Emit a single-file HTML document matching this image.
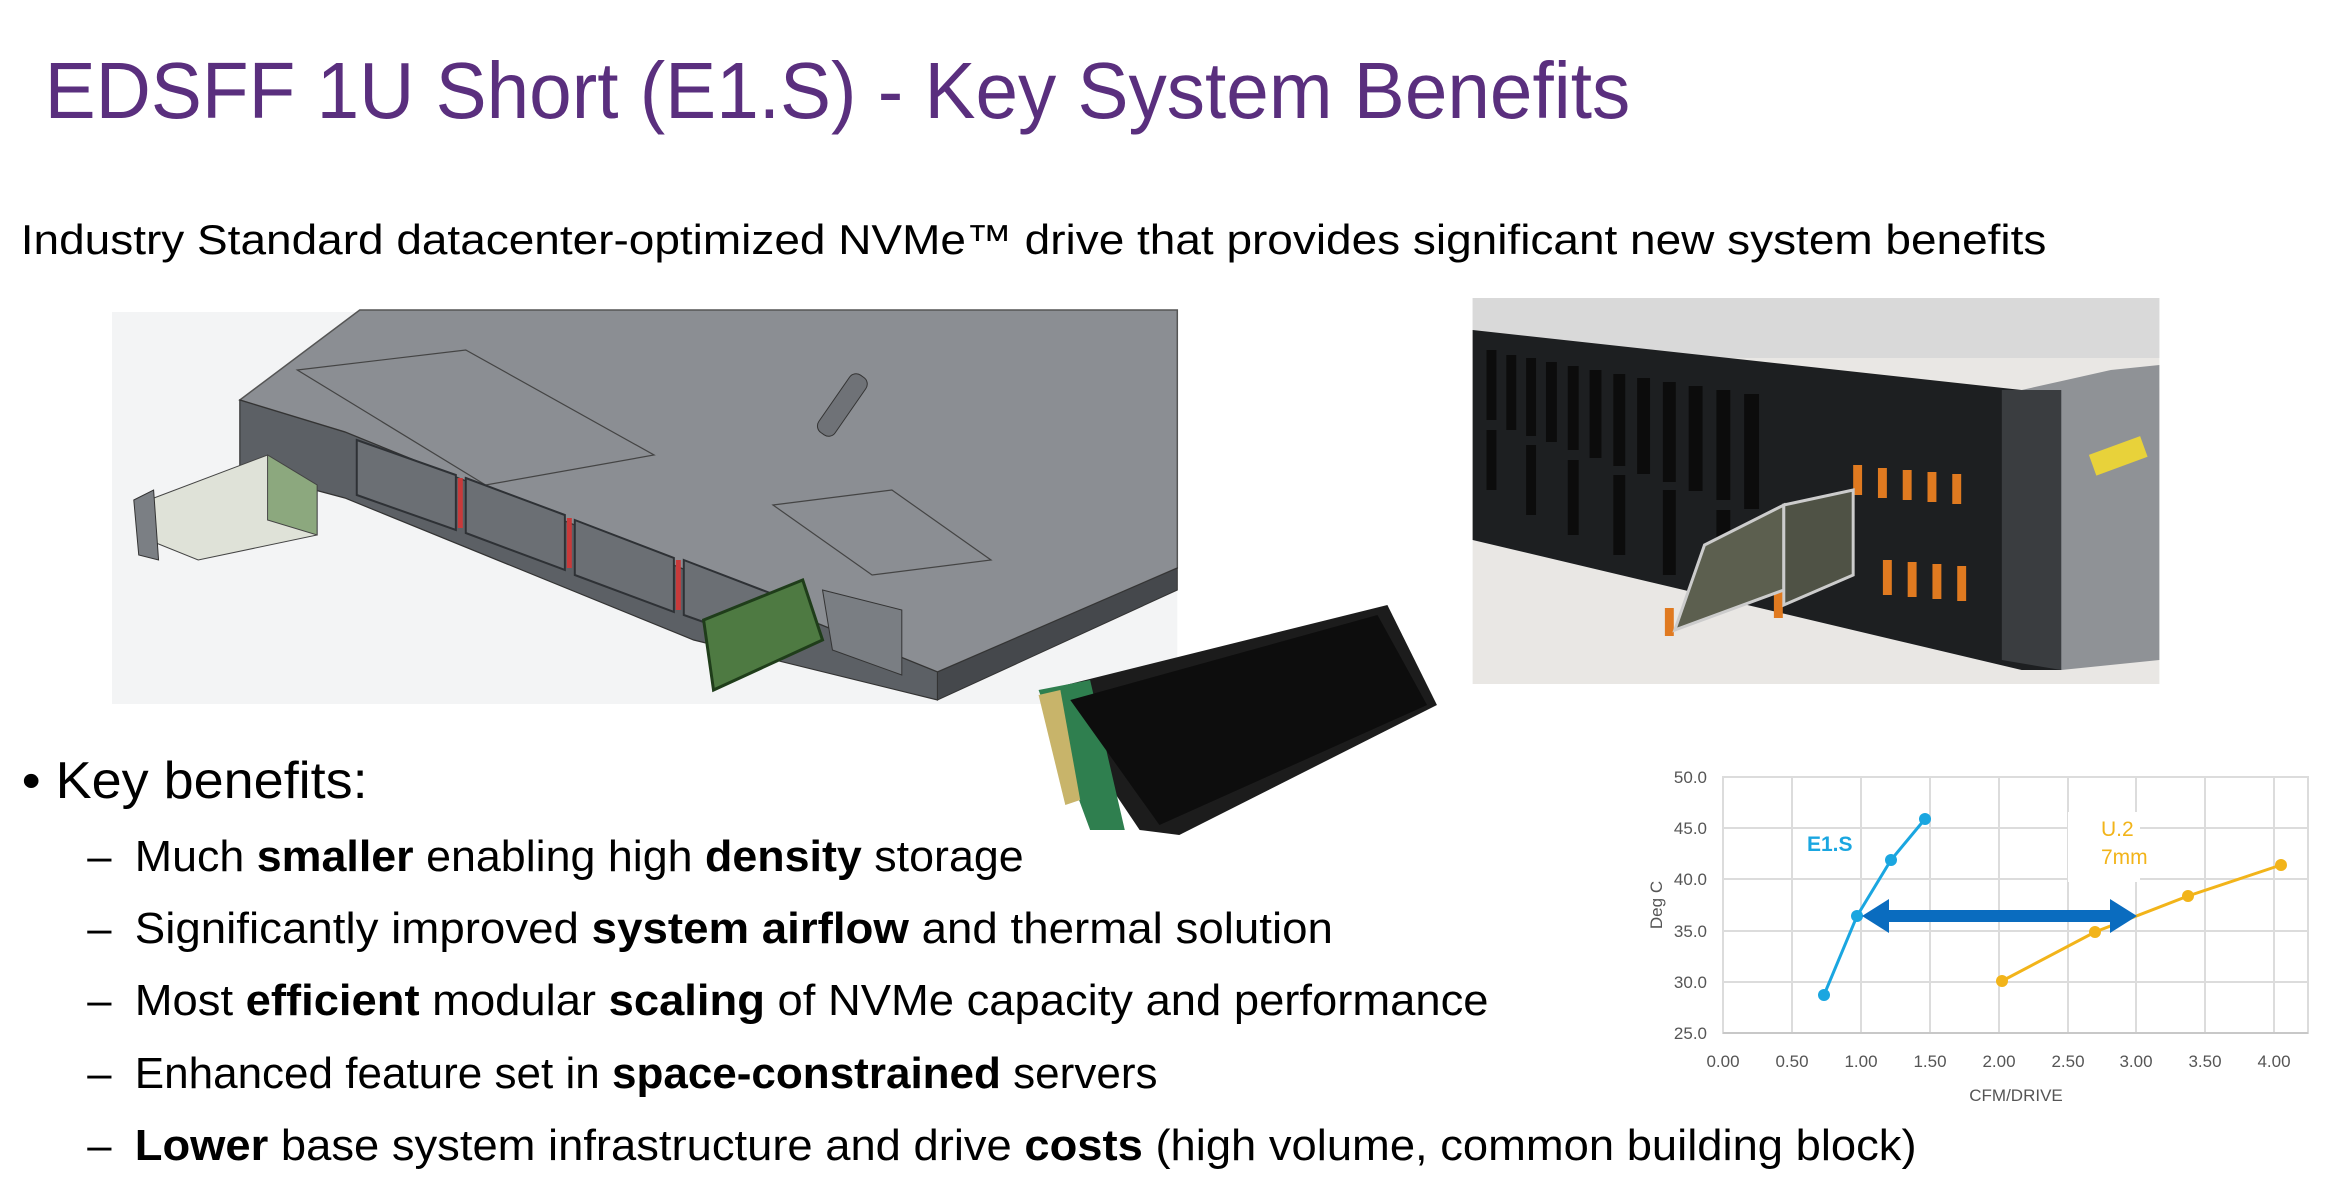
<!DOCTYPE html>
<html><head><meta charset="utf-8"><style>
html,body{margin:0;padding:0;background:#fff;}
svg{display:block;}
text{font-family:"Liberation Sans",sans-serif;}
</style></head><body>
<svg width="2348" height="1182" viewBox="0 0 2348 1182" xmlns="http://www.w3.org/2000/svg">
<rect width="2348" height="1182" fill="#fff"/>
<g transform="scale(0.991 1)">
<!-- Title -->
<text x="45" y="118" font-size="80" fill="#5a2f7e" textLength="1600" lengthAdjust="spacingAndGlyphs">EDSFF 1U Short (E1.S) - Key System Benefits</text>
<text x="21" y="254" font-size="42" fill="#000" textLength="2044" lengthAdjust="spacingAndGlyphs">Industry Standard datacenter-optimized NVMe™ drive that provides significant new system benefits</text>

<!-- Server drawing -->
<rect x="113" y="312" width="1075" height="392" fill="#f3f4f5"/>
<polygon points="242,400 363,310 1188,310 1188,568 946,672 348,432" fill="#8b8e93" stroke="#555" stroke-width="1.5"/>
<polygon points="300,370 470,350 660,455 490,485" fill="none" stroke="#444" stroke-width="1.2"/>
<polygon points="780,505 900,490 1000,560 880,575" fill="none" stroke="#444" stroke-width="1.2"/>
<rect x="840" y="370" width="20" height="70" rx="8" transform="rotate(35 850 405)" fill="#6f7277" stroke="#333"/>
<polygon points="242,400 348,432 946,672 946,700 700,640 348,498 242,470" fill="#5c6065" stroke="#333" stroke-width="1.2"/>
<polygon points="946,672 1188,568 1188,590 946,700" fill="#45484c" stroke="#333"/>
<g stroke="#2e3135" stroke-width="2" fill="#6b6f74">
<polygon points="360,440 460,475 460,530 360,495"/>
<polygon points="470,478 570,515 570,570 470,533"/>
<polygon points="580,520 680,558 680,612 580,575"/>
<polygon points="690,560 790,598 790,650 690,615"/>
</g>
<g fill="#c83a3a"><rect x="462" y="478" width="5" height="50"/><rect x="572" y="518" width="5" height="50"/><rect x="682" y="560" width="5" height="50"/></g>
<polygon points="150,500 270,455 320,485 320,535 200,560 150,540" fill="#dfe2d8" stroke="#444"/>
<polygon points="270,455 320,485 320,535 270,520" fill="#8ca87e" stroke="#444"/>
<polygon points="135,500 155,490 160,560 140,555" fill="#7b7f84" stroke="#333"/>
<polygon points="710,620 810,580 830,640 720,690" fill="#4e7a42" stroke="#1f3d1a" stroke-width="3"/>
<polygon points="830,590 910,610 910,675 840,650" fill="#7a7e83" stroke="#333"/>

<!-- M.2 drive -->
<polygon points="1055,690 1400,605 1450,705 1190,835 1150,830" fill="#1c1c1c"/>
<polygon points="1048,690 1100,680 1135,830 1100,830" fill="#2f7f4f"/>
<polygon points="1048,695 1070,690 1090,800 1075,805" fill="#c8b46a"/>
<polygon points="1080,700 1390,615 1440,705 1170,825" fill="#0d0d0d"/>

<!-- Photo -->
<rect x="1486" y="298" width="693" height="386" fill="#e9e7e4"/>
<rect x="1486" y="298" width="693" height="60" fill="#d9d9d9"/>
<polygon points="1486,330 2040,390 2080,390 2080,670 2040,670 1486,540" fill="#1d1f21"/>
<polygon points="2040,390 2130,370 2179,365 2179,660 2080,670" fill="#8f9296"/>
<polygon points="2020,390 2080,390 2080,670 2020,660" fill="#3a3d40"/>
<g fill="#0c0c0c">
<rect x="1500" y="350" width="10" height="70"/><rect x="1520" y="355" width="10" height="75"/><rect x="1540" y="358" width="10" height="78"/><rect x="1560" y="362" width="11" height="80"/><rect x="1582" y="366" width="11" height="84"/><rect x="1604" y="370" width="12" height="88"/><rect x="1628" y="374" width="12" height="92"/><rect x="1652" y="378" width="13" height="96"/><rect x="1678" y="382" width="13" height="100"/><rect x="1704" y="386" width="14" height="105"/><rect x="1732" y="390" width="14" height="110"/><rect x="1760" y="394" width="15" height="115"/>
<rect x="1500" y="430" width="10" height="60"/><rect x="1540" y="445" width="10" height="70"/><rect x="1582" y="460" width="11" height="75"/><rect x="1628" y="475" width="12" height="80"/><rect x="1678" y="490" width="13" height="85"/><rect x="1732" y="510" width="14" height="90"/>
</g>
<g fill="#e07a20"><rect x="1870" y="465" width="9" height="30"/><rect x="1895" y="468" width="9" height="30"/><rect x="1920" y="470" width="9" height="30"/><rect x="1945" y="472" width="9" height="30"/><rect x="1970" y="474" width="9" height="30"/>
<rect x="1900" y="560" width="9" height="35"/><rect x="1925" y="562" width="9" height="35"/><rect x="1950" y="564" width="9" height="35"/><rect x="1975" y="566" width="9" height="35"/><rect x="1680" y="608" width="9" height="28"/><rect x="1790" y="590" width="9" height="28"/></g>
<polygon points="1720,545 1800,505 1800,590 1690,630" fill="#5c5f4f" stroke="#ccc" stroke-width="3"/>
<polygon points="1800,505 1870,490 1870,575 1800,605" fill="#4f5245" stroke="#ccc" stroke-width="3"/>
<rect x="2110" y="445" width="55" height="22" fill="#e8d23a" transform="rotate(-20 2137 456)"/>

<!-- Bullets -->
<text x="22" y="798" font-size="52" fill="#000" textLength="349" lengthAdjust="spacingAndGlyphs">• Key benefits:</text>
<g font-size="44" fill="#000">
<text x="88" y="871">–</text>
<text x="136" y="871" textLength="897" lengthAdjust="spacingAndGlyphs">Much <tspan font-weight="bold">smaller</tspan> enabling high <tspan font-weight="bold">density</tspan> storage</text>
<text x="88" y="943">–</text>
<text x="136" y="943" textLength="1209" lengthAdjust="spacingAndGlyphs">Significantly improved <tspan font-weight="bold">system airflow</tspan> and thermal solution</text>
<text x="88" y="1015">–</text>
<text x="136" y="1015" textLength="1366" lengthAdjust="spacingAndGlyphs">Most <tspan font-weight="bold">efficient</tspan> modular <tspan font-weight="bold">scaling</tspan> of NVMe capacity and performance</text>
<text x="88" y="1088">–</text>
<text x="136" y="1088" textLength="1032" lengthAdjust="spacingAndGlyphs">Enhanced feature set in <tspan font-weight="bold">space-constrained</tspan> servers</text>
<text x="88" y="1160">–</text>
<text x="136" y="1160" textLength="1798" lengthAdjust="spacingAndGlyphs"><tspan font-weight="bold">Lower</tspan> base system infrastructure and drive <tspan font-weight="bold">costs</tspan> (high volume, common building block)</text>
</g>
</g>

<!-- Chart -->
<g stroke="#dcdcdc" stroke-width="2" fill="none">
<rect x="1723" y="777" width="585" height="256"/>
<line x1="1723" y1="828" x2="2308" y2="828"/><line x1="1723" y1="879" x2="2308" y2="879"/><line x1="1723" y1="931" x2="2308" y2="931"/><line x1="1723" y1="982" x2="2308" y2="982"/>
<line x1="1792" y1="777" x2="1792" y2="1033"/><line x1="1861" y1="777" x2="1861" y2="1033"/><line x1="1930" y1="777" x2="1930" y2="1033"/><line x1="1999" y1="777" x2="1999" y2="1033"/><line x1="2068" y1="777" x2="2068" y2="1033"/><line x1="2136" y1="777" x2="2136" y2="1033"/><line x1="2205" y1="777" x2="2205" y2="1033"/><line x1="2274" y1="777" x2="2274" y2="1033"/>
</g>
<line x1="1723" y1="1033" x2="2308" y2="1033" stroke="#c8c8c8" stroke-width="2"/>
<g font-size="17" fill="#555" text-anchor="end">
<text x="1707" y="783">50.0</text><text x="1707" y="834">45.0</text><text x="1707" y="885">40.0</text><text x="1707" y="937">35.0</text><text x="1707" y="988">30.0</text><text x="1707" y="1039">25.0</text>
</g>
<g font-size="17" fill="#555" text-anchor="middle">
<text x="1723" y="1067">0.00</text><text x="1792" y="1067">0.50</text><text x="1861" y="1067">1.00</text><text x="1930" y="1067">1.50</text><text x="1999" y="1067">2.00</text><text x="2068" y="1067">2.50</text><text x="2136" y="1067">3.00</text><text x="2205" y="1067">3.50</text><text x="2274" y="1067">4.00</text>
<text x="2016" y="1101">CFM/DRIVE</text>
</g>
<text x="0" y="0" font-size="17" fill="#555" text-anchor="middle" transform="translate(1662 905) rotate(-90)">Deg C</text>
<rect x="2068" y="812" width="72" height="70" fill="#fff"/>
<text x="1807" y="851" font-size="21" font-weight="bold" fill="#1aa6e0">E1.S</text>
<text x="2101" y="836" font-size="21" fill="#f2b41a">U.2</text>
<text x="2101" y="864" font-size="21" fill="#f2b41a">7mm</text>
<polyline points="1824,995 1857,916 1891,860 1925,819" fill="none" stroke="#1aa6e0" stroke-width="3"/>
<g fill="#1aa6e0"><circle cx="1824" cy="995" r="6"/><circle cx="1857" cy="916" r="6"/><circle cx="1891" cy="860" r="6"/><circle cx="1925" cy="819" r="6"/></g>
<polyline points="2002,981 2095,932 2188,896 2281,865" fill="none" stroke="#f2b41a" stroke-width="3"/>
<g fill="#f2b41a"><circle cx="2002" cy="981" r="6"/><circle cx="2095" cy="932" r="6"/><circle cx="2188" cy="896" r="6"/><circle cx="2281" cy="865" r="6"/></g>
<polygon points="1862,916 1889,899 1889,910 2110,910 2110,899 2137,916 2110,933 2110,922 1889,922 1889,933" fill="#0a6cbf"/>
</svg>
</body></html>
